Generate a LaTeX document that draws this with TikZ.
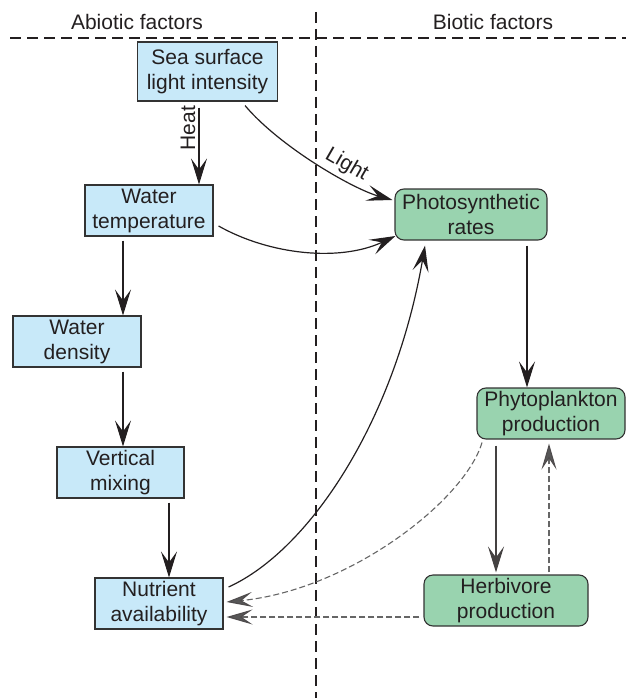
\documentclass[tikz,border=0pt]{standalone}
\usepackage{fontspec}
\setmainfont{Liberation Sans}
\usetikzlibrary{arrows.meta,calc}
\definecolor{abio}{HTML}{C8E9F9}
\definecolor{bio}{HTML}{99D3AF}
\definecolor{bord}{HTML}{333333}
\definecolor{txt}{HTML}{231F20}
\definecolor{dgray}{HTML}{666666}
\begin{document}
\begin{tikzpicture}[x=1pt,y=-1pt,
  every node/.style={font=\fontsize{21}{25}\selectfont, text=txt},
  abox/.style={draw=bord, line width=1.1pt, fill=abio, inner sep=0pt, align=center},
  bbox/.style={draw=bord, line width=1.1pt, fill=bio, rounded corners=9pt, inner sep=0pt, align=center},
  sep/.style={line width=1.2pt, dash pattern=on 11pt off 6pt, color=txt},
  arr/.style={line width=1.2pt, color=txt, -{Stealth[length=26pt,width=16pt,inset=11pt]}},
  darr/.style={line width=1.1pt, color=dgray, dash pattern=on 6pt off 3pt, -{Stealth[length=26pt,width=15pt,inset=11pt,fill=dgray!85!black,color=txt!80]}}
]
\useasboundingbox (0,0) rectangle (626,698);
% header
\coordinate (hl) at (10,38);
\coordinate (hr) at (626,38);
\coordinate (vt) at (316,12);
\coordinate (vb) at (316,698);
\draw[sep] (hl) -- (hr);
\draw[sep] (vt) -- (vb);
\node[anchor=base] (abio) at (137,30) {Abiotic factors};
\node[anchor=base] (bio) at (493,30) {Biotic factors};
% abiotic boxes
\node[abox, minimum width=140pt, minimum height=59pt] (sea) at (207.5,71.5) {Sea surface\\light intensity};
\node[abox, minimum width=128pt, minimum height=51pt] (wt) at (149,210.5) {Water\\temperature};
\node[abox, minimum width=128pt, minimum height=51pt] (wd) at (77,341.5) {Water\\density};
\node[abox, minimum width=127pt, minimum height=51pt] (vm) at (120.5,472.5) {Vertical\\mixing};
\node[abox, minimum width=128pt, minimum height=51pt] (na) at (159,603.5) {Nutrient\\availability};
% biotic boxes
\node[bbox, minimum width=152pt, minimum height=51pt] (ps) at (471,214.5) {Photosynthetic\\rates};
\node[bbox, minimum width=148pt, minimum height=51pt] (pp) at (551,413.5) {Phytoplankton\\production};
\node[bbox, minimum width=164pt, minimum height=51pt] (hp) at (506,600.5) {Herbivore\\production};
% straight arrows
\draw[arr] ($(sea.south)+(-8.5,6)$) -- node[pos=0.27, above, rotate=90, inner sep=3pt] (heat) {Heat} ($(wt.north)+(50,0)$);
\draw[arr] ($(wt.south)+(-26,4)$) -- ($(wd.north)+(46,0)$);
\draw[arr] ($(wd.south)+(46,4)$) -- ($(vm.north)+(2.5,0)$);
\draw[arr] ($(vm.south)+(48.5,4)$) -- ($(na.north)+(10,0)$);
\draw[arr] ($(ps.south)+(56,5)$) -- ($(pp.north)+(-24,0)$);
\draw[arr, color=txt!85] ($(pp.south)+(-55,6)$) -- ($(hp.north)+(-10,-2)$);
% curved arrows
\draw[arr] ($(sea.south)+(37.5,4)$) .. controls (280,147) and (353,189) .. ($(ps.west)+(-2,-14.5)$);
\node[rotate=-30, anchor=base west, inner sep=0pt] (light) at (324,158) {Light};
\draw[arr] ($(wt.east)+(5,15.5)$) .. controls (270,255) and (340,262) .. ($(ps.west)+(1,21.5)$);
\draw[arr] ($(na.east)+(5,-16.5)$) .. controls (310,550) and (395,420) .. ($(ps.south)+(-46,5)$);
% dashed feedback arrows
\draw[darr] ($(hp.north)+(43,-2)$) -- ($(pp.south)+(-2,4)$);
\draw[darr] ($(pp.south)+(-69,3)$) .. controls (465,500) and (350,590) .. ($(na.east)+(3,-1.5)$);
\draw[darr] ($(hp.west)+(-4,16.5)$) -- ($(na.east)+(3,13.5)$);
\end{tikzpicture}
\end{document}
